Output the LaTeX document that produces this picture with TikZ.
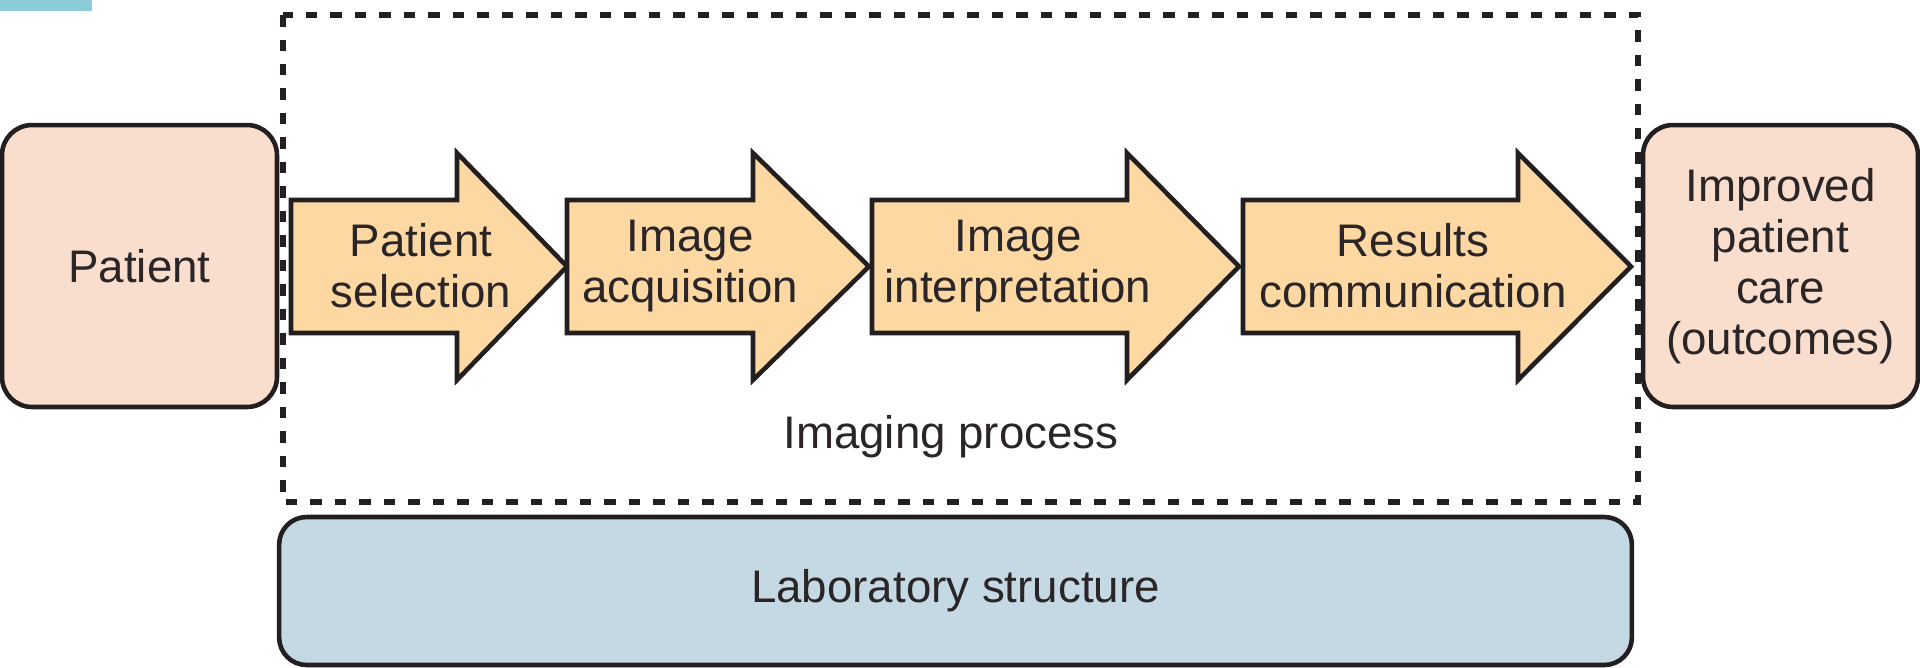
\documentclass[tikz,border=0pt]{standalone}
\usepackage{fontspec}
\setmainfont{Liberation Sans}
\definecolor{linecol}{HTML}{231F20}
\definecolor{textcol}{HTML}{2A2526}
\definecolor{peach}{HTML}{FADECD}
\definecolor{arrowfill}{HTML}{FDD8A2}
\definecolor{labfill}{HTML}{C5D9E4}
\definecolor{tabcol}{HTML}{8CCBD8}
\tikzset{
  box/.style={draw=linecol, line width=2.6pt, rounded corners=0.6cm, inner sep=0pt},
  flowarrow/.style={draw=linecol, fill=arrowfill, line width=2.6pt, line join=miter},
  lbl/.style={text=textcol, font=\fontsize{26}{29}\selectfont, align=center, inner sep=0pt},
  frame/.style={draw=linecol, line width=3.2pt, dash pattern=on 0.23cm off 0.26cm},
}
\newcommand{\flowshape}[3]{%
  \draw[flowarrow] (#1,200) -- (#2,200) -- (#2,153) -- (#3,266.5)
    -- (#2,380) -- (#2,333) -- (#1,333) -- cycle;}
\begin{document}
\begin{tikzpicture}[x=0.02cm, y=-0.02cm]
  \useasboundingbox (0,0) rectangle (1920,667);
  % corner tab
  \fill[tabcol] (0,0) rectangle (92,11);
  % imaging process frame
  \draw[frame] (283,15) rectangle (1638,502);
  \node[lbl] (process) at (951,437) {Imaging process};
  % end boxes
  \node[box, fill=peach, minimum width=5.5cm, minimum height=5.64cm]
    (patient) at (139.5,266) {};
  \node[lbl] at (patient.center) {Patient};
  \node[box, fill=peach, minimum width=5.5cm, minimum height=5.64cm]
    (care) at (1780.5,266) {};
  \node[lbl] at (care.center) {Improved\\patient\\care\\(outcomes)};
  % process steps
  \flowshape{291}{457}{567}
  \node[lbl] (s1) at (421,266) {Patient\\selection};
  \flowshape{567}{753}{869}
  \node[lbl] (s2) at (690,266) {Image\\acquisition};
  \flowshape{872}{1127}{1239}
  \node[lbl] (s3) at (1018,266) {Image\\interpretation};
  \flowshape{1243}{1518}{1631}
  \node[lbl] (s4) at (1413,266) {Results\\communication};
  % laboratory structure
  \node[box, fill=labfill, rounded corners=0.55cm, minimum width=27.06cm, minimum height=2.96cm]
    (lab) at (955.5,591) {};
  \node[lbl] at (lab.center) {Laboratory structure};
\end{tikzpicture}
\end{document}
